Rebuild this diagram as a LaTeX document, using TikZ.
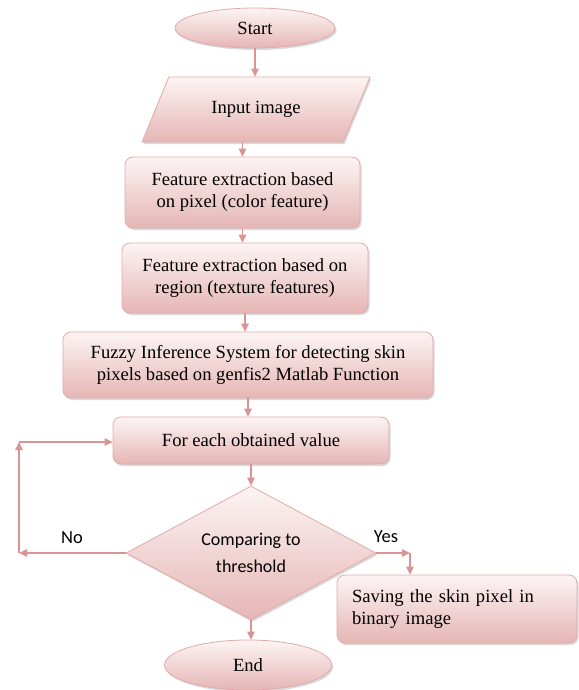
\documentclass[tikz,border=0pt]{standalone}
\usepackage{fontspec}
\setmainfont{Liberation Serif}
\newfontfamily\calfont{Carlito}
\usepackage{tikz}
\usetikzlibrary{arrows.meta, shapes.geometric, shadows}

\definecolor{edgepink}{HTML}{D99594}
\definecolor{lowpink}{HTML}{E5B6B5}
\definecolor{toppink}{HTML}{FDF4F4}

\begin{document}
\begin{tikzpicture}[x=1pt, y=-1pt,
    every node/.style={font=\fontsize{18.6}{22}\selectfont},
    pinkfill/.style={draw=edgepink!80, line width=0.8pt, top color=toppink, bottom color=lowpink,
        drop shadow={shadow xshift=1.5pt, shadow yshift=-2pt, opacity=0.3, fill=gray}},
    terminal/.style={pinkfill, ellipse, inner sep=0pt},
    process/.style={pinkfill, rectangle, rounded corners=8pt, inner sep=0pt, align=center},
    iobox/.style={pinkfill, trapezium, trapezium left angle=50, trapezium right angle=130,
        trapezium stretches=true, inner sep=0pt},
    decision/.style={pinkfill, diamond, aspect=1.87, inner sep=0pt, align=center,
        font=\calfont\fontsize{18}{27}\selectfont},
    flow/.style={draw=edgepink, line width=1.4pt, -{Triangle[length=8pt, width=7.5pt]}},
    branch/.style={font=\calfont\fontsize{18.5}{22}\selectfont}]

    \useasboundingbox (0,0) rectangle (578,690);

    % Draw the main column
    \node[terminal, minimum width=160pt, minimum height=40pt] (start) at (255,28) {Start};
    \node[iobox, minimum width=228pt, minimum height=65pt] (input) at (256,109.5) {Input image};
    \node[process, minimum width=235pt, minimum height=71pt] (feat1) at (242.5,192.5)
        {Feature extraction based\\on pixel (color feature)};
    \node[process, minimum width=246pt, minimum height=70pt] (feat2) at (245,278)
        {Feature extraction based on\\region (texture features)};
    \node[process, minimum width=370pt, minimum height=66pt] (fuzzy) at (248,365)
        {Fuzzy Inference System for detecting skin\\pixels based on genfis2 Matlab Function};
    \node[process, minimum width=276pt, minimum height=47pt] (each) at (251,440.5)
        {For each obtained value};
    \node[decision, minimum width=250pt, minimum height=134pt] (dec) at (251,553)
        {Comparing to\\threshold};
    \node[terminal, minimum width=167pt, minimum height=50pt] (finish) at (248,665) {End};

    % Draw the side box for the Yes branch
    \node[process, align=left, text width=210pt, inner xsep=15pt, minimum width=240pt,
        minimum height=68pt] (save) at (457,609) {Saving the skin pixel in\\binary image};

    % Connect the column
    \draw[flow] (start) -- (start |- input.north);
    \draw[flow] (input.south -| feat1) -- (feat1);
    \draw[flow] (feat1) -- (feat1 |- feat2.north);
    \draw[flow] (feat2) -- (feat2 |- fuzzy.north);
    \draw[flow] (fuzzy) -- (fuzzy |- each.north);
    \draw[flow] (each) -- (dec);
    \draw[flow] (dec.south) -- (dec.south |- finish.north);

    % No branch loops back
    \coordinate (noA) at (19,553);
    \coordinate (noB) at (19,442);
    \draw[flow] (dec.west) -- (noA);
    \draw[flow] (noA) -- (noB);
    \draw[flow] (noB) -- (noB -| each.west);
    \node[branch] (nolab) at (72,538) {No};

    % Yes branch goes to the side box
    \coordinate (yesA) at (410,553);
    \draw[flow] (dec.east) -- (yesA);
    \draw[flow] (yesA) -- (yesA |- save.north);
    \node[branch] (yeslab) at (386,537) {Yes};
\end{tikzpicture}
\end{document}
